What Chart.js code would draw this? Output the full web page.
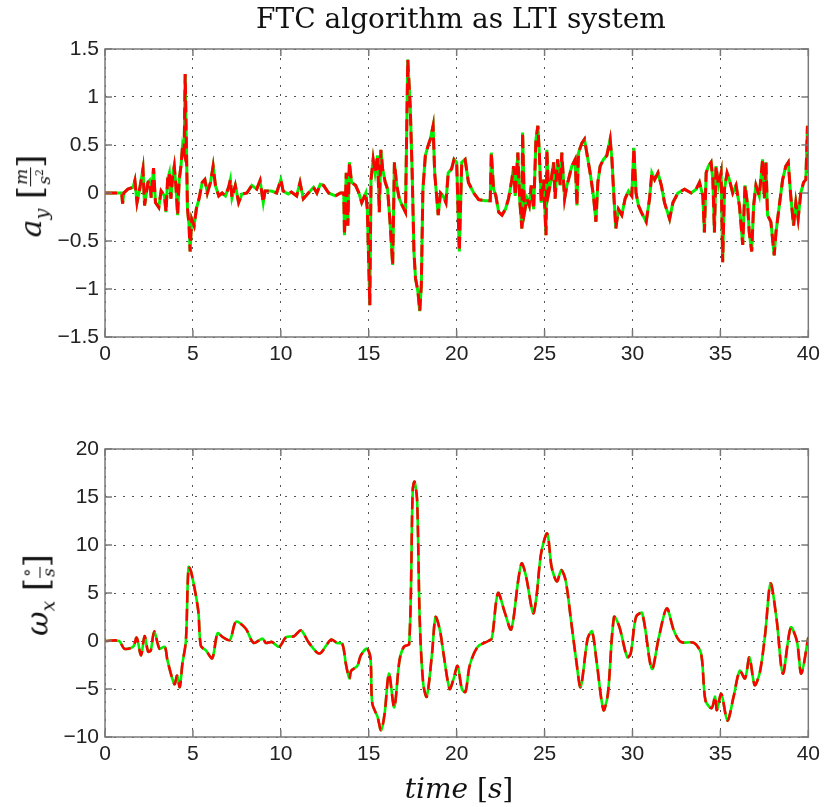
<!DOCTYPE html>
<html>
<head>
<meta charset="utf-8">
<script src="https://cdn.jsdelivr.net/npm/chart.js@4.4.1/dist/chart.umd.min.js"></script>
<style>
  body { margin: 0; background: #fff; }
  #wrap { position: relative; width: 825px; height: 807px; overflow: hidden; }
  canvas { position: absolute; left: 0; }
  .lbl { position: absolute; font-family: 'DejaVu Serif', serif; color: #111; white-space: nowrap; }
  .ylab { transform: translate(-50%, -50%) rotate(-90deg); font-size: 30px; }
  .frac { display: inline-block; vertical-align: middle; text-align: center; font-size: 17px; line-height: 17px; }
  .frac .num { display: block; border-bottom: 1px solid #111; padding: 0 1px; }
  .frac .den { display: block; }
  .br { font-size: 34px; }
</style>
</head>
<body>
<div id="wrap">
  <canvas id="topChart" width="825" height="400" style="top:0"></canvas>
  <canvas id="bottomChart" width="825" height="407" style="top:400px"></canvas>
  <div class="lbl" id="title" style="left:461px; top:2px; transform:translateX(-50%); font-size:28px;">FTC algorithm as LTI system</div>
  <div class="lbl ylab" style="left:31px; top:196px;"><i>a</i><sub style="font-size:19px"><i>y</i></sub> <span class="br">[</span><span class="frac"><span class="num"><i>m</i></span><span class="den"><i>s</i><sup style="font-size:11px">2</sup></span></span><span class="br">]</span></div>
  <div class="lbl ylab" style="left:37px; top:595px;"><i>ω</i><sub style="font-size:19px"><i>x</i></sub> <span class="br">[</span><span class="frac"><span class="num">°</span><span class="den"><i>s</i></span></span><span class="br">]</span></div>
  <div class="lbl" style="left:459px; top:772px; transform:translateX(-50%); font-size:28px;"><i>time</i> [<i>s</i>]</div>
</div>
<script>
// time axis ticks
const timeTicks = [0, 5, 10, 15, 20, 25, 30, 35, 40];

// lateral acceleration a_y [m/s^2]
const tAy = [0, 0.95, 1.0, 1.07, 1.3, 1.6, 1.7, 1.82, 1.97, 2.16, 2.25, 2.44, 2.53, 2.63, 2.76, 2.87, 3.06, 3.19, 3.38, 3.47,
  3.56, 3.66, 3.75, 3.85, 3.94, 4.03, 4.13, 4.22, 4.32, 4.41, 4.5, 4.56, 4.63, 4.69, 4.78, 4.84, 4.93, 5.07, 5.2, 5.35,
  5.53, 5.68, 5.82, 6.0, 6.15, 6.28, 6.47, 6.66, 6.85, 7.03, 7.13, 7.22, 7.41, 7.6, 7.79, 8.07, 8.35, 8.63, 8.82, 9.0,
  9.1, 9.47, 9.76, 10.0, 10.13, 10.42, 10.6, 10.9, 11.09, 11.28, 11.57, 11.86, 12.05, 12.24, 12.43, 12.72, 13.1, 13.39, 13.58, 13.62,
  13.72, 13.81, 13.9, 14.02, 14.25, 14.44, 14.6, 14.83, 14.92, 15.06, 15.13, 15.25, 15.36, 15.5, 15.6, 15.69, 15.79, 15.94, 16.07, 16.21,
  16.36, 16.46, 16.59, 16.74, 16.9, 17.09, 17.22, 17.36, 17.47, 17.57, 17.66, 17.8, 17.9, 17.99, 18.08, 18.22, 18.37, 18.5, 18.66, 18.75,
  18.95, 19.08, 19.23, 19.39, 19.52, 19.71, 19.85, 20.0, 20.15, 20.29, 20.48, 20.67, 20.97, 21.25, 21.63, 21.91, 21.97, 22.1, 22.23, 22.39,
  22.58, 22.77, 22.95, 23.14, 23.24, 23.33, 23.48, 23.58, 23.71, 23.75, 23.86, 24.0, 24.13, 24.24, 24.38, 24.51, 24.62, 24.7, 24.81, 24.94,
  25.08, 25.13, 25.23, 25.38, 25.51, 25.6, 25.74, 25.89, 25.98, 26.14, 26.27, 26.36, 26.55, 26.74, 26.84, 26.93, 27.12, 27.27, 27.4, 27.59,
  27.78, 27.92, 28.03, 28.16, 28.35, 28.54, 28.73, 28.83, 28.92, 29.05, 29.2, 29.39, 29.58, 29.77, 29.96, 30.08, 30.2, 30.34, 30.5, 30.78,
  30.97, 31.1, 31.26, 31.45, 31.64, 31.82, 32.11, 32.3, 32.58, 32.96, 33.34, 33.62, 33.81, 34.0, 34.09, 34.19, 34.32, 34.47, 34.57, 34.66,
  34.75, 34.89, 35.04, 35.13, 35.23, 35.38, 35.51, 35.7, 35.89, 36.08, 36.27, 36.4, 36.55, 36.64, 36.78, 36.89, 37.02, 37.21, 37.4, 37.5,
  37.59, 37.68, 37.87, 38.06, 38.16, 38.35, 38.54, 38.72, 38.86, 39.0, 39.16, 39.29, 39.42, 39.57, 39.73, 39.86, 39.95, 40.0];
const ayValues = [0, 0, -0.11, 0.0, 0.04, 0.06, 0.13, -0.1, 0.04, 0.25, -0.13, 0.11, 0.13, -0.05, 0.26, -0.1, -0.15, 0.02, -0.03, -0.2,
  0.14, 0.21, -0.06, 0.18, 0.28, 0.08, -0.23, 0.14, 0.28, 0.49, 0.42, 1.24, 0.49, -0.16, -0.34, -0.61, -0.27, -0.34, -0.16, -0.06,
  0.11, 0.14, 0.0, 0.11, 0.28, 0.08, -0.03, 0.0, -0.03, 0.06, 0.14, -0.05, 0.08, -0.1, -0.01, 0.0, 0.08, 0.04, 0.13, -0.1,
  0.02, 0.02, 0.0, 0.14, 0.02, -0.01, 0.01, -0.03, 0.11, -0.06, 0.0, 0.06, 0.0, 0.09, 0.08, 0.0, -0.03, 0.0, 0.0, -0.44,
  0.21, -0.34, 0.32, 0.11, 0.08, 0.0, -0.1, 0.0, -0.17, -1.17, 0.14, 0.35, 0.21, 0.39, -0.2, 0.45, 0.25, 0.11, 0.04, -0.3,
  -0.75, 0.32, 0.08, -0.06, -0.13, -0.2, 1.39, 0.9, 0.21, -0.61, -0.89, -1.03, -1.23, -0.96, 0.04, 0.39, 0.49, 0.56, 0.7, 0.21,
  -0.23, 0.0, -0.03, -0.1, 0.21, 0.25, 0.35, 0.32, -0.61, 0.32, 0.35, 0.11, 0.0, -0.07, -0.08, -0.08, 0.42, 0.04, -0.03, -0.2,
  -0.23, -0.17, -0.06, 0.14, 0.28, -0.03, 0.42, -0.06, -0.37, 0.63, -0.2, -0.06, -0.13, 0.08, -0.17, 0.56, 0.7, 0.42, -0.1, 0.14,
  -0.44, 0.45, 0.0, 0.14, 0.32, -0.06, 0.35, 0.08, 0.42, -0.06, 0.08, 0.14, 0.28, 0.35, -0.13, 0.42, 0.52, 0.56, 0.42, 0.21,
  -0.03, -0.3, 0.11, 0.28, 0.35, 0.39, 0.56, 0.35, 0.04, -0.37, -0.17, -0.23, -0.06, 0.02, -0.03, 0.47, 0.0, -0.13, -0.2, -0.3,
  -0.06, 0.21, 0.14, 0.21, 0.08, -0.1, -0.27, -0.1, 0.0, 0.04, 0.0, 0.04, 0.11, -0.03, -0.41, 0.21, 0.28, 0.32, 0.14, -0.41,
  0.28, 0.08, 0.21, -0.72, 0.04, 0.21, 0.14, 0.0, 0.08, -0.13, -0.54, 0.08, -0.13, -0.41, -0.61, -0.13, 0.08, -0.03, 0.35, -0.06,
  0.32, -0.23, -0.3, -0.65, -0.41, -0.13, 0.14, 0.28, 0.32, -0.03, -0.34, -0.1, -0.27, 0.0, 0.11, 0.14, 0.7, 0.21];
const ayTicks = [-1.5, -1, -0.5, 0, 0.5, 1, 1.5];

// roll rate omega_x [deg/s]
const tWx = [0, 0.8, 1.1, 1.6, 1.8, 2.05, 2.25, 2.45, 2.6, 2.8, 3.1, 3.4, 3.55, 3.95, 4.1, 4.25, 4.4, 4.6, 4.75, 4.9,
  5.3, 5.45, 5.75, 6.1, 6.4, 6.7, 7.1, 7.45, 8.0, 8.45, 8.95, 9.15, 9.5, 9.9, 10.3, 10.75, 11.15, 11.6, 12.2, 12.85,
  13.2, 13.5, 13.7, 13.9, 14.0, 14.35, 14.55, 14.9, 15.1, 15.2, 15.5, 15.7, 15.9, 16.15, 16.45, 16.75, 17.0, 17.3, 17.5, 17.6,
  17.75, 17.9, 18.1, 18.3, 18.6, 18.8, 19.05, 19.25, 19.6, 19.8, 20.05, 20.3, 20.5, 20.75, 21.2, 21.8, 22.0, 22.35, 22.75, 23.1,
  23.5, 23.7, 23.95, 24.35, 24.55, 24.8, 25.15, 25.4, 25.7, 25.95, 26.2, 26.5, 26.8, 27.05, 27.45, 27.7, 27.95, 28.35, 28.6, 28.95,
  29.25, 29.7, 29.9, 30.2, 30.55, 31.1, 31.5, 31.95, 32.35, 32.75, 33.5, 33.9, 34.15, 34.5, 34.7, 34.8, 35.05, 35.4, 35.75, 36.1,
  36.4, 36.65, 36.95, 37.25, 37.55, 37.85, 38.2, 38.55, 39.0, 39.35, 39.6, 40];
const wxValues = [0, 0, -0.8, -0.6, 0.35, -1.5, 0.5, -1.1, -1.0, 1.0, -0.8, -0.6, -2.0, -4.5, -3.6, -4.8, -2.4, 0, 7.7, 7.2,
  3.2, -0.5, -1.0, -1.8, 0.8, 0.4, 0.1, 2.0, 1.3, -0.2, 0.25, -0.2, -0.1, -0.6, 0.4, 0.5, 1.1, -0.2, -1.3, 0.15,
  -0.2, -0.3, -2.4, -3.9, -3.1, -2.6, -1.5, -0.8, -1.8, -6.5, -7.9, -9.3, -7.6, -3.4, -6.9, -2.0, -0.6, -0.3, 15.7, 16.6,
  14.7, 2.2, -4.5, -5.8, -1.3, 2.5, 1.1, -1.3, -5.0, -4.1, -2.6, -5.0, -5.3, -2.5, -0.6, 0, 0.25, 5.0, 2.9, 1.2,
  6.3, 8.1, 6.7, 2.9, 4.8, 9.1, 11.2, 7.7, 6.2, 7.4, 6.3, 2.2, -2.0, -4.8, 0.25, 1.0, -2.0, -7.2, -5.5, 2.5,
  1.5, -1.7, -1.3, 2.5, 2.9, -2.9, 0.4, 3.4, 1.1, -0.1, -0.2, -1.3, -6.2, -7.0, -5.8, -7.2, -5.5, -8.3, -5.8, -3.1,
  -3.9, -1.7, -4.6, -3.2, 0.8, 6.0, 2.2, -3.4, 1.4, 0, -3.4, 0.4];
const wxTicks = [-10, -5, 0, 5, 10, 15, 20];

function toPoints(ts, vs) {
    return ts.map((t, i) => ({ x: t, y: vs[i] }));
}

function fmt(v) {
    return String(v).replace('-', '\u2212');
}

// Box around the plot area plus inward tick marks (MATLAB style)
const boxPlugin = {
    id: 'box',
    afterDraw(chart) {
        const { ctx, chartArea: a, scales } = chart;
        ctx.save();
        ctx.strokeStyle = '#7a7a7a';
        ctx.lineWidth = 1.5;
        ctx.strokeRect(a.left, a.top, a.right - a.left, a.bottom - a.top);
        ctx.beginPath();
        scales.x.ticks.forEach(t => {
            const px = scales.x.getPixelForValue(t.value);
            ctx.moveTo(px, a.bottom); ctx.lineTo(px, a.bottom - 7);
            ctx.moveTo(px, a.top); ctx.lineTo(px, a.top + 7);
        });
        scales.y.ticks.forEach(t => {
            const py = scales.y.getPixelForValue(t.value);
            ctx.moveTo(a.left, py); ctx.lineTo(a.left + 7, py);
            ctx.moveTo(a.right, py); ctx.lineTo(a.right - 7, py);
        });
        ctx.stroke();
        ctx.restore();
    }
};

function makeChart(id, ts, vs, yMin, yMax, yTickList, xHeight, lineW, smooth) {
    const pts = toPoints(ts, vs);
    const tickFont = { family: "'Liberation Sans', Arial, sans-serif", size: 21 };
    return new Chart(document.getElementById(id).getContext('2d'), {
        type: 'line',
        data: {
            datasets: [
                {
                    data: pts,
                    borderColor: '#ff0000',
                    borderWidth: lineW,
                    borderDash: [12, 6],
                    pointRadius: 0,
                    tension: smooth,
                    order: 0
                },
                {
                    data: pts,
                    borderColor: '#00ee00',
                    borderWidth: lineW,
                    pointRadius: 0,
                    tension: smooth,
                    order: 1
                }
            ]
        },
        options: {
            responsive: false,
            animation: false,
            layout: { padding: { top: 49, right: 13, left: 0, bottom: 0 } },
            plugins: { legend: { display: false }, tooltip: { enabled: false } },
            scales: {
                x: {
                    type: 'linear',
                    min: 0,
                    max: 40,
                    afterBuildTicks: s => { s.ticks = timeTicks.map(v => ({ value: v })); },
                    afterFit: s => { s.height = xHeight; },
                    ticks: { color: '#222', font: tickFont, padding: 5, maxRotation: 0, callback: v => fmt(v) },
                    grid: { color: '#555', lineWidth: 1, drawTicks: false },
                    border: { display: false, dash: [2, 7] }
                },
                y: {
                    min: yMin,
                    max: yMax,
                    afterBuildTicks: s => { s.ticks = yTickList.map(v => ({ value: v })); },
                    afterFit: s => { s.width = 105; },
                    ticks: { color: '#222', font: tickFont, padding: 6, callback: v => fmt(v) },
                    grid: { color: '#555', lineWidth: 1, drawTicks: false },
                    border: { display: false, dash: [2, 7] }
                }
            }
        },
        plugins: [boxPlugin]
    });
}

makeChart('topChart', tAy, ayValues, -1.5, 1.5, ayTicks, 63, 3, 0);
makeChart('bottomChart', tWx, wxValues, -10, 20, wxTicks, 70, 2.6, 0.3);
</script>
</body>
</html>
